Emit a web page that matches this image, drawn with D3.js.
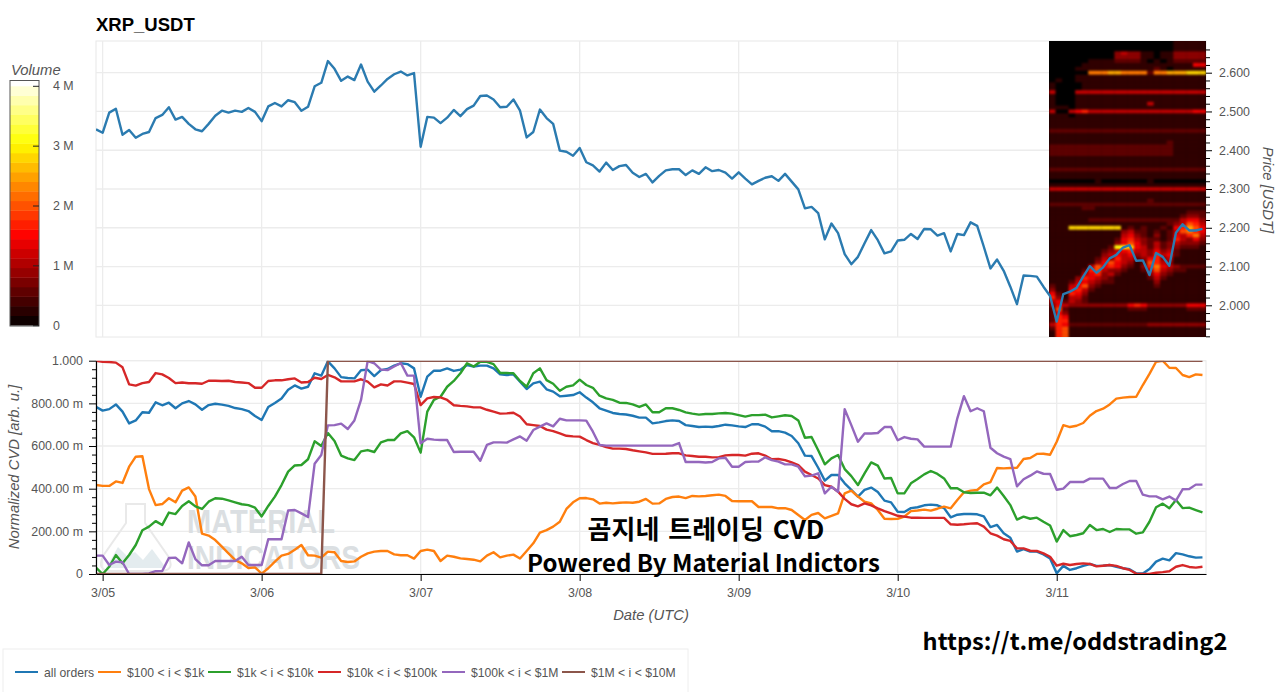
<!DOCTYPE html>
<html>
<head>
<meta charset="utf-8">
<script src="https://cdn.jsdelivr.net/npm/d3@7"></script>
<style>
    body { margin: 0; background: #fff; }
    text { font-family: "Liberation Sans", Arial, sans-serif; }
    .tick text { fill: #555; font-size: 12.4px; font-family: "Liberation Sans", Arial, sans-serif; }
    .axis-title { fill: #555; font-size: 14.8px; font-style: italic; }
    .overlay { fill: #000; font-family: "Noto Sans CJK KR", sans-serif; font-weight: 700; }
</style>
</head>
<body>
<div id="chart"></div>
<script>
// hourly closes
const price = [
    2.454,2.445,2.497,2.507,2.440,2.452,2.432,2.442,2.447,2.483,2.491,2.511,
    2.479,2.486,2.468,2.454,2.449,2.468,2.489,2.502,2.497,2.502,2.499,2.509,
    2.499,2.475,2.513,2.522,2.513,2.529,2.524,2.502,2.512,2.565,2.574,2.630,
    2.610,2.579,2.590,2.581,2.621,2.577,2.551,2.567,2.584,2.596,2.603,2.593,
    2.599,2.409,2.486,2.484,2.470,2.484,2.504,2.488,2.506,2.515,2.540,2.541,
    2.531,2.511,2.512,2.531,2.502,2.433,2.447,2.505,2.483,2.468,2.399,2.396,
    2.386,2.406,2.369,2.361,2.345,2.368,2.349,2.359,2.362,2.342,2.331,2.339,
    2.317,2.334,2.348,2.351,2.351,2.336,2.348,2.339,2.356,2.346,2.349,2.342,
    2.327,2.343,2.327,2.312,2.321,2.329,2.333,2.321,2.339,2.319,2.299,2.250,
    2.254,2.238,2.170,2.211,2.186,2.132,2.106,2.125,2.160,2.194,2.168,2.134,
    2.139,2.167,2.169,2.184,2.171,2.197,2.196,2.180,2.186,2.139,2.184,2.181,
    2.214,2.205,2.151,2.095,2.118,2.089,2.048,2.003,2.077,2.076,2.074,2.048,
    2.024,1.958,2.029,2.035,2.045,2.074,2.101,2.084,2.098,2.121,2.130,2.149,
    2.155,2.115,2.116,2.078,2.135,2.125,2.102,2.187,2.209,2.193,2.193,2.197
];

const cvdAll = [
    .784,.766,.773,.795,.761,.706,.720,.758,.756,.805,.791,.803,
    .777,.800,.811,.795,.770,.792,.798,.794,.788,.778,.773,.764,
    .741,.722,.783,.802,.823,.864,.884,.869,.878,.941,.930,.997,
    .964,.923,.919,.917,.955,.958,.928,.956,.961,.977,.988,.984,
    .964,.831,.925,.953,.953,.964,.952,.958,.980,.973,.977,.977,
    .964,.936,.933,.936,.902,.867,.894,.902,.866,.855,.833,.836,
    .839,.852,.827,.805,.777,.766,.755,.750,.748,.742,.733,.733,
    .706,.711,.717,.720,.717,.698,.694,.689,.691,.689,.694,.700,
    .697,.692,.689,.702,.702,.691,.669,.670,.663,.647,.613,.555,
    .553,.498,.438,.464,.464,.425,.394,.363,.394,.405,.384,.344,
    .336,.292,.291,.309,.313,.322,.325,.322,.309,.266,.278,.281,
    .281,.280,.270,.220,.230,.191,.170,.105,.117,.105,.105,.092,
    .073,.003,.038,.019,.027,.038,.047,.038,.039,.042,.034,.027,
    .022,.003,.002,.023,.058,.072,.064,.098,.092,.083,.077,.078
];

const cvd100 = [
    .417,.413,.413,.434,.427,.503,.550,.552,.398,.323,.328,.355,
    .336,.391,.406,.363,.189,.180,.159,.128,.097,.066,.050,.028,
    .031,.002,.027,.058,.086,.094,.114,.136,.088,.086,.077,.105,
    .102,.061,.056,.059,.081,.097,.105,.108,.108,.092,.088,.088,
    .072,.108,.114,.108,.061,.086,.081,.073,.070,.067,.059,.086,
    .102,.078,.086,.091,.073,.108,.144,.194,.206,.222,.245,.305,
    .336,.355,.356,.350,.330,.334,.331,.334,.336,.334,.339,.352,
    .330,.331,.352,.361,.363,.356,.366,.364,.366,.369,.372,.366,
    .342,.341,.341,.341,.314,.314,.314,.308,.309,.300,.277,.253,
    .277,.286,.261,.272,.284,.378,.391,.363,.339,.331,.300,.259,
    .258,.259,.269,.295,.298,.302,.297,.306,.316,.308,.347,.383,
    .391,.394,.420,.431,.497,.495,.497,.498,.539,.544,.563,.564,
    .559,.620,.698,.689,.695,.708,.742,.764,.775,.795,.822,.827,
    .830,.831,.886,.938,.995,1.000,.967,.966,.933,.923,.936,.933
];

const cvd1k = [
    .030,0,.034,.089,.050,.089,.136,.205,.222,.248,.230,.288,
    .281,.319,.341,.317,.305,.339,.355,.353,.345,.336,.327,.323,
    .311,.270,.319,.363,.417,.480,.509,.511,.538,.622,.600,.661,
    .623,.555,.542,.534,.575,.581,.572,.617,.628,.628,.659,.670,
    .641,.569,.761,.816,.831,.878,.905,.941,.988,.973,.995,.995,
    .984,.942,.942,.941,.905,.878,.941,.964,.909,.892,.859,.878,
    .884,.911,.886,.873,.836,.823,.816,.803,.802,.795,.783,.795,
    .758,.758,.777,.777,.769,.758,.752,.747,.750,.750,.753,.755,
    .752,.745,.738,.745,.745,.747,.734,.739,.744,.741,.720,.639,
    .642,.580,.514,.542,.558,.492,.459,.417,.472,.523,.508,.448,
    .450,.378,.378,.425,.445,.467,.483,.469,.448,.402,.402,.383,
    .380,.381,.381,.369,.405,.366,.323,.255,.269,.259,.264,.245,
    .227,.152,.206,.177,.183,.191,.230,.206,.211,.197,.211,.209,
    .209,.189,.195,.245,.313,.330,.308,.347,.309,.311,.300,.289
];

const cvd10k = [
    1.000,.995,.994,.991,.969,.889,.883,.895,.900,.942,.936,.919,
    .895,.898,.894,.894,.892,.906,.906,.905,.906,.900,.898,.895,
    .873,.873,.905,.908,.908,.913,.917,.898,.900,.920,.914,.933,
    .922,.903,.903,.903,.913,.902,.875,.889,.884,.903,.903,.897,
    .891,.792,.823,.830,.828,.816,.791,.788,.786,.781,.781,.770,
    .761,.752,.753,.756,.738,.702,.698,.694,.677,.670,.659,.648,
    .645,.644,.628,.614,.605,.595,.588,.588,.586,.580,.575,.570,
    .563,.563,.564,.566,.566,.556,.553,.550,.550,.547,.548,.556,
    .558,.558,.555,.564,.566,.555,.538,.539,.534,.523,.511,.480,
    .464,.448,.417,.409,.386,.352,.327,.317,.331,.322,.308,.295,
    .284,.273,.269,.264,.264,.263,.263,.263,.263,.233,.231,.233,
    .236,.238,.222,.191,.180,.163,.155,.120,.120,.109,.108,.097,
    .081,.039,.048,.042,.047,.050,.047,.036,.039,.042,.038,.027,
    .019,.002,0,0,.006,.009,.013,.034,.042,.033,.030,.034
];

const cvd100k = [
    .086,.086,.042,.058,.055,0,0,0,.003,.013,.014,.075,
    .077,.050,.148,.070,.041,.041,.061,.061,.061,.061,.081,.042,
    .042,.042,.163,.163,.163,.298,.300,.284,.267,.517,.558,.697,
    .698,.705,.680,.720,.816,.998,.988,.958,.956,.973,.989,.930,
    .930,.613,.634,.630,.628,.628,.572,.573,.573,.573,.531,.605,
    .617,.617,.616,.631,.645,.625,.675,.691,.706,.692,.728,.720,
    .720,.720,.719,.667,.605,.602,.602,.602,.602,.602,.602,.602,
    .602,.602,.602,.602,.614,.525,.525,.525,.523,.525,.542,.545,
    .503,.503,.525,.527,.527,.547,.534,.527,.514,.514,.503,.458,
    .461,.472,.378,.409,.386,.773,.698,.620,.659,.659,.661,.689,
    .689,.627,.642,.634,.631,.597,.597,.597,.597,.597,.730,.834,
    .763,.777,.763,.592,.566,.550,.539,.411,.444,.461,.481,.470,
    .469,.395,.400,.431,.431,.431,.447,.447,.447,.403,.403,.422,
    .436,.436,.372,.364,.364,.350,.363,.344,.397,.398,.419,.419
];

const cvd1m = [
    0,0,0,0,0,0,0,0,0,0,0,0,
    0,0,0,0,0,0,0,0,0,0,0,0,
    0,0,0,0,0,0,0,0,0,0,0,1,
    1,1,1,1,1,1,1,1,1,1,1,1,
    1,1,1,1,1,1,1,1,1,1,1,1,
    1,1,1,1,1,1,1,1,1,1,1,1,
    1,1,1,1,1,1,1,1,1,1,1,1,
    1,1,1,1,1,1,1,1,1,1,1,1,
    1,1,1,1,1,1,1,1,1,1,1,1,
    1,1,1,1,1,1,1,1,1,1,1,1,
    1,1,1,1,1,1,1,1,1,1,1,1,
    1,1,1,1,1,1,1,1,1,1,1,1,
    1,1,1,1,1,1,1,1,1,1,1,1,
    1,1,1,1,1,1,1,1,1,1,1,1
];

const seriesNames  = ['all orders', '$100 < i < $1k', '$1k < i < $10k', '$10k < i < $100k', '$100k < i < $1M', '$1M < i < $10M'];
const seriesValues = [cvdAll, cvd100, cvd1k, cvd10k, cvd100k, cvd1m];
const seriesColors = ['#1f77b4', '#ff7f0e', '#2ca02c', '#d62728', '#9467bd', '#8c564b'];

const priceTicks  = [2.0, 2.1, 2.2, 2.3, 2.4, 2.5, 2.6];
const cvdTicks    = [0, 0.2, 0.4, 0.6, 0.8, 1];
const cvdLabels   = ['0', '200.00 m', '400.00 m', '600.00 m', '800.00 m', '1.000'];
const volumeTicks = [0, 1e6, 2e6, 3e6, 4e6];
const volumeLabels = ['0', '1 M', '2 M', '3 M', '4 M'];

// order book heat: one string per price level, 2.68 down to 1.92 in 0.01 steps,
// one hex digit per hour for the last 24 hours, each digit is 0.28 M of volume
const heatLevelStep = 0.28e6;
const heatPriceTop = 2.68;
const heatPriceStep = 0.01;
const heatRows = [
    '000000000000000000011111','000000000000000000011111','000000000000000000011111',
    '000000000034331101133333','000000000033331101133333','000000111122221010122222',
    '000001111111111111111155','000011111111111121011111','000000888998888288999aaa',
    '000011111111111111111111','010011111111111111111111','100001111111111111111111',
    '100001111111111111111111','400044444444444444444444','100011111111111111111111',
    '100011111111111111111111','100011111111111411111111','111011111111111111111111',
    '400456444444444444444455','111011111111111111111111','111111111111111111111111',
    '111111111111111111111111','111111111111111111111111','222222222222222222222222',
    '111111111111111111111111','111111111111111111111111','111111111111111111211111',
    '222222222222222222211111','222222222222222222211111','222222222222222222211111',
    '111111111111111111111111','111111111111111111111111','111111111111111111111111',
    '222222222222222222222222','111111111111111111111111','111111111111111111111111',
    '000000010000000100000000','111111111111111111111111','444444444444444444444444',
    '111111111111111111111111','111111111111111111111111','111111111111111211111111',
    '222222222222222222222222','111112211111111111111111','111111111111111111111222',
    '111111111111111111112332','111111222222222222224553','111111111111111111234764',
    '111aaaaaaaa121211215697 5','111111111113422121247865','111111111114532131254684',
    '111111111125643221264353','111111111135753242343332','1111111112bba54242332221',
    '111111112345644353421111','111111113454534364521111','111111124364423563411111',
    '111111135754312764311111','111111475653213685432222','111112674332112474322111',
    '111114563421111353211111','111136543211111242111111','111245432211111131111111',
    '211457321111111121111111','311564211111111111111111','521653111111111111111111',
    '631442111111111111111111','452432111111111111111111','354333333333565333333555',
    '272111111111222111111222','253111111111111111111111','265111111111111111111111',
    '266111111111111111111111','465222222222222333333333','267111111111111111111111',
    '167111111111111111111111','167111111111111111111111'
].map(row => row.replace(/ /g, ''));

const width = 1280, height = 692;
const left = 96, right = 1206;
const heatLeft = 1049;
const topPlot = { top: 41, bottom: 337 };
const cvdPlot = { top: 360.7, bottom: 574 };
const barBox = { left: 10, right: 39, top: 80.5, bottom: 326 };

const hours = d3.utcHour.range(new Date(Date.UTC(2025, 2, 4, 23)), new Date(Date.UTC(2025, 2, 11, 23)));
const days = d3.utcDay.range(new Date(Date.UTC(2025, 2, 5)), new Date(Date.UTC(2025, 2, 12)));

const x = d3.scaleUtc()
    .domain([hours[0], d3.utcMinute.offset(hours[hours.length - 1], 32)])
    .range([left, right]);
const yPrice = d3.scaleLinear().domain([2, 2.6]).range([305.3, 72.7]);
const yCvd = d3.scaleLinear().domain([0, 1]).range([cvdPlot.bottom, cvdPlot.top]);
const yVolume = d3.scaleLinear().domain([0, 4e6]).range([325.2, 85.8]);
const heatColor = d3.scaleLinear()
    .domain([0, 1.5e6, 3.05e6, 4.09e6])
    .range(['#000000', '#ff0000', '#ffff00', '#ffffff'])
    .clamp(true);

const svg = d3.select('#chart').append('svg')
    .attr('width', width)
    .attr('height', height)
    .style('display', 'block');

const defs = svg.append('defs');
const addClip = (id, box) => defs.append('clipPath').attr('id', id).append('rect')
    .attr('x', box.x).attr('y', box.y).attr('width', box.w).attr('height', box.h);
addClip('clip-top', { x: left, y: topPlot.top, w: right - left, h: topPlot.bottom - topPlot.top });
addClip('clip-cvd', { x: left, y: cvdPlot.top, w: right - left, h: cvdPlot.bottom - cvdPlot.top });
addClip('clip-heat', { x: heatLeft, y: topPlot.top, w: right - heatLeft, h: topPlot.bottom - topPlot.top });

// plot frames and grid
const drawGrid = (plot, yScale, yValues) => {
    const g = svg.append('g');
    g.append('rect')
        .attr('x', left).attr('y', plot.top)
        .attr('width', right - left).attr('height', plot.bottom - plot.top)
        .attr('fill', 'none').attr('stroke', '#e8e8e8').attr('stroke-width', 1);
    g.selectAll('.gx').data(days.slice(0, 7)).enter().append('line')
        .attr('x1', d => x(d)).attr('x2', d => x(d))
        .attr('y1', plot.top).attr('y2', plot.bottom)
        .attr('stroke', '#ececec').attr('stroke-width', 1.3);
    g.selectAll('.gy').data(yValues).enter().append('line')
        .attr('x1', left).attr('x2', right)
        .attr('y1', d => yScale(d)).attr('y2', d => yScale(d))
        .attr('stroke', '#ececec').attr('stroke-width', 1.3);
};
drawGrid(topPlot, yPrice, priceTicks);
drawGrid(cvdPlot, yCvd, cvdTicks);

// heatmap
const heatX = d3.scaleBand().domain(hours.slice(-24)).range([heatLeft, right]);
const heatGroup = svg.append('g').attr('clip-path', 'url(#clip-heat)');
heatGroup.append('rect')
    .attr('x', heatLeft).attr('y', topPlot.top)
    .attr('width', right - heatLeft).attr('height', topPlot.bottom - topPlot.top)
    .attr('fill', '#000');
const heatCells = heatRows.flatMap((row, r) => row.split('').map((c, i) => ({
    hour: hours[hours.length - 24 + i],
    price: heatPriceTop - r * heatPriceStep,
    volume: parseInt(c, 16) * heatLevelStep
})));
heatGroup.append('g')
    .style('filter', 'blur(0.8px)')
    .selectAll('rect')
    .data(heatCells)
    .enter()
    .append('rect')
    .attr('x', d => heatX(d.hour))
    .attr('y', d => yPrice(d.price + heatPriceStep / 2))
    .attr('width', heatX.bandwidth() + 0.3)
    .attr('height', yPrice(0) - yPrice(heatPriceStep) + 0.3)
    .attr('fill', d => heatColor(d.volume));

// price line
svg.append('g').attr('clip-path', 'url(#clip-top)')
    .append('path')
    .attr('d', d3.line().x((d, i) => x(hours[i])).y(d => yPrice(d))(price))
    .attr('fill', 'none')
    .attr('stroke', '#2b7bb0')
    .attr('stroke-width', 2.4)
    .attr('stroke-linejoin', 'round');

// price axis
svg.append('g').attr('transform', `translate(${right},0)`)
    .call(d3.axisRight(yPrice)
        .tickValues(d3.range(96, 134, 1).map(v => v / 50).filter(v => !priceTicks.includes(v)))
        .tickSize(4).tickFormat(''))
    .call(g => g.select('.domain').remove());
svg.append('g').attr('transform', `translate(${right},0)`)
    .call(d3.axisRight(yPrice).tickValues(priceTicks).tickSize(6).tickPadding(7).tickFormat(d3.format('.3f')))
    .call(g => g.select('.domain').remove());
svg.append('text').attr('class', 'axis-title')
    .attr('transform', 'translate(1263,190) rotate(90)')
    .attr('text-anchor', 'middle')
    .text('Price [USDT]');

svg.append('text')
    .attr('x', 96).attr('y', 31)
    .attr('font-size', 18.5).attr('font-weight', 700)
    .text('XRP_USDT');

// colour bar
const barSteps = d3.range(0, 4.09e6, 0.16e6);
const yBar = d3.scaleLinear().domain([0, 4.09e6]).range([325.2, barBox.top]);
svg.append('g').selectAll('rect').data(barSteps).enter().append('rect')
    .attr('x', barBox.left)
    .attr('y', d => yBar(Math.min(d + 0.16e6, 4.09e6)))
    .attr('width', barBox.right - barBox.left)
    .attr('height', d => yBar(d) - yBar(Math.min(d + 0.16e6, 4.09e6)) + 0.4)
    .attr('fill', d => heatColor(d + 0.08e6));
svg.append('rect')
    .attr('x', barBox.left).attr('y', barBox.top)
    .attr('width', barBox.right - barBox.left).attr('height', barBox.bottom - barBox.top)
    .attr('fill', 'none').attr('stroke', '#555').attr('stroke-width', 1);
svg.append('g').attr('transform', `translate(${barBox.right},0)`)
    .call(d3.axisRight(yVolume).tickValues(volumeTicks).tickSize(-6).tickPadding(14)
        .tickFormat((d, i) => volumeLabels[i]))
    .call(g => g.select('.domain').remove())
    .call(g => g.selectAll('line').attr('stroke', '#222'));
svg.append('text').attr('class', 'axis-title')
    .attr('x', 11).attr('y', 75)
    .text('Volume');

// watermark behind the cvd lines
const mark = svg.append('g');
mark.append('path')
    .attr('d', 'M126,504H145V523L168,556Q176,571 160,571H112Q96,571 103,556L126,523Z')
    .attr('fill', 'none').attr('stroke', '#e9e9e9').attr('stroke-width', 2);
mark.append('path')
    .attr('d', 'M106,568L118,547L127,556L135,552L143,560L152,549L166,568Z')
    .attr('fill', '#e4ecef');
mark.selectAll('text')
    .data([{ t: 'MATERIAL', y: 533, w: 148 }, { t: 'INDICATORS', y: 569, w: 173 }])
    .enter().append('text')
    .attr('x', 187).attr('y', d => d.y)
    .attr('font-size', 33).attr('font-weight', 700)
    .attr('textLength', d => d.w).attr('lengthAdjust', 'spacingAndGlyphs')
    .attr('fill', '#dbdfe2')
    .text(d => d.t);

// cvd lines
const cvdLine = d3.line().x((d, i) => x(hours[i])).y(d => yCvd(d));
svg.append('g').attr('clip-path', 'url(#clip-cvd)')
    .selectAll('path')
    .data(seriesValues)
    .enter()
    .append('path')
    .attr('d', d => cvdLine(d))
    .attr('fill', 'none')
    .attr('stroke', (d, i) => seriesColors[i])
    .attr('stroke-width', 2.4)
    .attr('stroke-linejoin', 'round');

// cvd axes
const minorCvd = d3.range(0, 26).map(v => v / 25).filter(v => v <= 1 && Math.round(v * 25) % 5 !== 0);
svg.append('g').attr('transform', `translate(${left},0)`)
    .call(d3.axisLeft(yCvd).tickValues(minorCvd).tickSize(4).tickFormat(''))
    .call(g => g.select('.domain').remove());
svg.append('g').attr('transform', `translate(${left},0)`)
    .call(d3.axisLeft(yCvd).tickValues(cvdTicks).tickSize(7).tickSizeOuter(0).tickPadding(6)
        .tickFormat((d, i) => cvdLabels[i]))
    .call(g => g.select('.domain').attr('stroke-width', 1.2));
svg.append('g').attr('transform', `translate(0,${cvdPlot.bottom})`)
    .call(d3.axisBottom(x).tickValues(days.slice(0, 7)).tickSize(7).tickSizeOuter(0).tickPadding(7)
        .tickFormat(d3.utcFormat('%-m/%d')))
    .call(g => g.select('.domain').attr('stroke-width', 1.2));

svg.append('text').attr('class', 'axis-title')
    .attr('x', 651).attr('y', 620)
    .attr('text-anchor', 'middle')
    .text('Date (UTC)');
svg.append('text').attr('class', 'axis-title')
    .attr('transform', 'translate(19,467) rotate(-90)')
    .attr('text-anchor', 'middle')
    .text('Normalized CVD [arb. u.]');

// legend
const legendX = [15, 98, 208, 318, 442, 562];
svg.append('rect')
    .attr('x', 3).attr('y', 649)
    .attr('width', 685).attr('height', 50)
    .attr('fill', '#fff').attr('stroke', '#eee');
const legend = svg.append('g').selectAll('g').data(seriesNames).enter().append('g')
    .attr('transform', (d, i) => `translate(${legendX[i]},672)`);
legend.append('line')
    .attr('x2', 23)
    .attr('stroke', (d, i) => seriesColors[i])
    .attr('stroke-width', 2);
legend.append('text')
    .attr('x', 29).attr('y', 4.5)
    .attr('font-size', 12.2).attr('fill', '#555')
    .text(d => d);

// text pasted over the chart
svg.append('text').attr('class', 'overlay')
    .attr('x', 706).attr('y', 539)
    .attr('text-anchor', 'middle').attr('font-size', 26).attr('word-spacing', 3)
    .text('곰지네 트레이딩 CVD');
svg.append('text').attr('class', 'overlay')
    .attr('x', 703.5).attr('y', 572)
    .attr('text-anchor', 'middle').attr('font-size', 24)
    .text('Powered By Material Indictors');
svg.append('text').attr('class', 'overlay')
    .attr('x', 1075).attr('y', 650)
    .attr('text-anchor', 'middle').attr('font-size', 23.6)
    .text('https://t.me/oddstrading2');
</script>
</body>
</html>
